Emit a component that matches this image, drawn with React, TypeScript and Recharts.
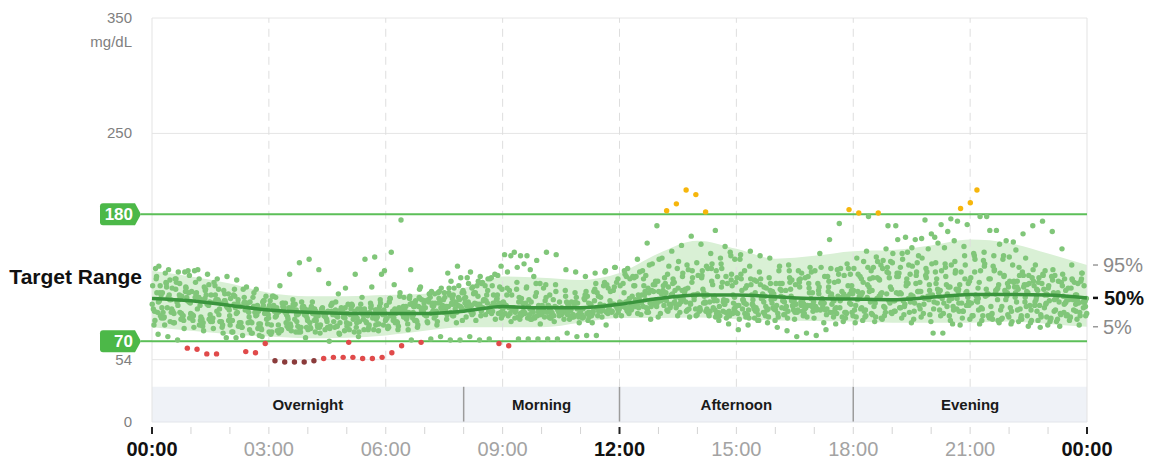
import React from 'react';
import { ComposedChart, XAxis, YAxis, Area, Line, Scatter, ReferenceLine, ReferenceArea } from 'recharts';

// hourly percentile curves (mg/dL)
const hours = [0, 1, 2, 3, 4, 5, 6, 7, 8, 9, 10, 11, 12, 13, 14, 15, 16, 17, 18, 19, 20, 21, 22, 23, 24];
const p5 = [82, 79, 76, 74, 72.5, 73, 75, 79, 82, 82, 82, 86, 90, 90, 90.5, 89, 88, 87.5, 87, 86, 86, 86, 87, 85, 82.5];
const p50 = [107, 105, 101, 97, 95, 94, 94, 94, 96, 100, 99, 99, 102, 107, 110, 110, 108.5, 107, 106.5, 106, 108, 110.5, 110.5, 110, 107.5];
const p95 = [131, 126, 120, 112, 109, 109, 110, 111, 116, 126, 125, 123, 129, 146, 157, 150, 141.5, 144, 148, 149, 153, 158, 155, 146, 136];

// sensor readings, one value per 15 min slot, one row per day
const slotMinutes = 15;
const dayOffsets = [9.4, 12.6, 8.5, 0.3, 10.5, 14, 4.5, 6.5, 2, 11.5, 13, 5.5, 7.5, 3, 1, 3.8, 7, 9.9, 12.2, 14.6];
const days: number[][] = [
  [76, 74, 71, 64, 63, 59, 59, 73, 73, 61, 60, 68, 53, 52, 52, 52, 53, 55, 56, 56, 56, 55, 55, 56,
   60, 66, 71, 69, 72, 74, 71, 71, 74, 71, 72, 68, 66, 72, 72, 72, 72, 72, 77, 74, 75, 75, 84, 92,
   99, 106, 113, 119, 125, 121, 114, 109, 103, 99, 96, 94, 98, 102, 107, 111, 114, 109, 104, 101, 97, 95, 99, 103,
   109, 117, 124, 129, 126, 120, 113, 107, 103, 100, 98, 101, 105, 110, 114, 112, 108, 104, 101, 99, 96, 95, 97, 99],
  [118, 123, 120, 127, 124, 119, 115, 111, 106, 103, 100, 98, 96, 95, 93, 94, 91, 94, 97, 99, 96, 95, 92, 93,
   90, 91, 93, 97, 96, 101, 107, 112, 116, 120, 125, 135, 144, 144, 132, 120, 110, 104, 100, 98, 103, 109, 116, 124,
   133, 141, 155, 170, 183, 189, 201, 197, 182, 166, 152, 141, 131, 123, 117, 111, 108, 105, 103, 101, 104, 108, 113, 118,
   124, 131, 136, 139, 134, 128, 121, 114, 109, 105, 103, 104, 107, 111, 116, 120, 122, 119, 115, 111, 107, 104, 102, 100],
  [95, 99, 104, 108, 112, 110, 106, 103, 99, 97, 95, 94, 96, 99, 101, 100, 98, 95, 93, 96, 101, 108, 117, 128,
   147, 175, 132, 117, 108, 104, 110, 106, 102, 99, 96, 94, 92, 91, 90, 92, 95, 99, 104, 108, 113, 120, 131, 134,
   128, 118, 110, 104, 101, 103, 106, 110, 115, 119, 121, 118, 114, 110, 107, 106, 109, 115, 124, 134, 146, 158, 172, 184,
   181, 178, 181, 170, 158, 147, 138, 130, 124, 119, 115, 112, 110, 109, 111, 114, 117, 119, 118, 115, 112, 109, 106, 104],
  [102, 99, 98, 94, 93, 91, 87, 87, 84, 85, 80, 75, 78, 77, 81, 78, 80, 82, 82, 83, 83, 86, 86, 89,
   89, 94, 96, 102, 105, 111, 112, 116, 112, 111, 105, 103, 98, 98, 95, 96, 93, 94, 93, 97, 98, 102, 102, 105,
   104, 107, 107, 112, 113, 117, 116, 116, 111, 110, 105, 105, 101, 102, 99, 100, 97, 98, 95, 98, 98, 103, 105, 111,
   114, 121, 125, 133, 138, 146, 151, 159, 163, 171, 176, 185, 190, 178, 166, 154, 143, 134, 127, 121, 116, 112, 108, 105],
  [135, 132, 130, 131, 132, 128, 124, 126, 123, 117, 115, 109, 108, 103, 102, 98, 98, 94, 95, 91, 92, 89, 92, 93,
   96, 97, 103, 106, 113, 116, 122, 125, 130, 126, 124, 117, 114, 108, 106, 101, 101, 98, 102, 103, 109, 112, 119, 121,
   126, 126, 127, 122, 120, 114, 113, 109, 109, 105, 106, 103, 106, 106, 111, 113, 120, 123, 129, 130, 134, 133, 133, 128,
   126, 124, 123, 125, 129, 136, 144, 150, 155, 165, 174, 171, 201, 178, 166, 157, 149, 142, 136, 131, 127, 124, 121, 118],
  [110, 106, 108, 103, 101, 104, 98, 97, 100, 95, 96, 93, 95, 91, 93, 90, 92, 89, 92, 94, 91, 95, 97, 94,
   98, 96, 100, 103, 101, 106, 110, 114, 117, 121, 118, 115, 110, 107, 104, 100, 99, 96, 97, 94, 95, 97, 99, 101,
   105, 110, 116, 122, 128, 133, 136, 138, 135, 131, 126, 121, 116, 112, 109, 107, 104, 105, 102, 104, 103, 106, 108, 111,
   112, 114, 112, 115, 111, 110, 113, 110, 114, 117, 119, 122, 121, 124, 119, 117, 115, 112, 114, 110, 109, 107, 110, 107],
  [88, 84, 86, 81, 82, 79, 81, 77, 78, 75, 77, 74, 78, 80, 79, 82, 81, 84, 83, 86, 85, 87, 84, 85,
   82, 83, 80, 84, 86, 87, 93, 95, 101, 102, 105, 101, 100, 95, 94, 90, 91, 87, 89, 91, 91, 96, 97, 102,
   103, 109, 110, 114, 111, 110, 104, 102, 97, 96, 92, 92, 89, 90, 88, 91, 91, 96, 97, 101, 98, 98, 94, 94,
   91, 92, 91, 95, 96, 102, 103, 107, 104, 103, 97, 96, 92, 92, 89, 90, 87, 89, 88, 91, 90, 93, 91, 92],
  [124, 121, 115, 113, 108, 107, 104, 105, 102, 103, 100, 101, 99, 100, 98, 99, 97, 98, 96, 99, 98, 102, 103, 106,
   107, 109, 107, 108, 104, 103, 100, 101, 99, 102, 103, 107, 110, 115, 116, 120, 119, 119, 114, 112, 106, 105, 101, 102,
   100, 101, 100, 104, 106, 111, 114, 121, 125, 133, 137, 144, 145, 148, 144, 142, 135, 131, 123, 120, 114, 113, 109, 109,
   106, 108, 107, 111, 112, 118, 120, 127, 130, 137, 139, 144, 144, 147, 144, 144, 156, 163, 170, 174, 165, 150, 136, 124],
  [98, 95, 96, 92, 93, 89, 90, 87, 88, 86, 87, 85, 105, 118, 128, 138, 141, 132, 120, 111, 102, 98, 92, 91,
   90, 87, 89, 88, 92, 92, 97, 98, 103, 103, 106, 103, 103, 99, 99, 95, 96, 93, 94, 91, 93, 92, 96, 96,
   100, 100, 104, 103, 105, 102, 102, 98, 98, 94, 95, 92, 94, 93, 97, 97, 101, 100, 102, 99, 100, 97, 98, 95,
   97, 96, 100, 100, 105, 105, 109, 108, 110, 107, 107, 103, 103, 99, 100, 97, 99, 98, 101, 101, 105, 104, 106, 103],
  [105, 110, 106, 112, 108, 102, 106, 99, 95, 99, 93, 89, 92, 86, 78, 73, 78, 80, 82, 79, 78, 80, 80, 84,
   88, 93, 90, 96, 101, 97, 103, 99, 95, 92, 96, 100, 94, 89, 93, 97, 91, 95, 99, 93, 88, 92, 96, 100,
   97, 103, 99, 106, 112, 108, 115, 110, 104, 109, 102, 98, 104, 100, 95, 99, 105, 101, 96, 100, 106, 111, 107, 102,
   98, 104, 109, 103, 99, 95, 101, 106, 112, 117, 113, 108, 104, 110, 115, 109, 104, 100, 106, 102, 97, 103, 108, 104],
  [92, 87, 95, 90, 84, 89, 93, 88, 83, 86, 81, 85, 79, 83, 87, 82, 88, 95, 104, 116, 128, 141, 143, 131,
   119, 108, 100, 95, 100, 96, 92, 88, 93, 98, 94, 90, 87, 92, 89, 85, 90, 94, 89, 86, 91, 96, 100, 95,
   99, 94, 98, 103, 97, 101, 96, 92, 96, 91, 95, 99, 94, 90, 94, 98, 93, 97, 92, 96, 100, 95, 91, 95,
   99, 94, 90, 95, 99, 104, 98, 93, 97, 92, 96, 101, 97, 92, 88, 93, 97, 92, 96, 91, 87, 92, 96, 92],
  [133, 129, 124, 130, 131, 117, 121, 114, 110, 115, 108, 104, 109, 103, 99, 104, 100, 96, 101, 97, 93, 98, 95, 100,
   104, 99, 95, 100, 106, 112, 129, 135, 125, 118, 110, 106, 101, 97, 103, 109, 105, 100, 96, 102, 107, 113, 118, 114,
   120, 126, 131, 137, 142, 148, 153, 161, 154, 146, 142, 147, 141, 135, 130, 125, 131, 136, 131, 126, 120, 126, 132, 137,
   142, 148, 143, 150, 170, 160, 158, 175, 160, 151, 157, 152, 146, 140, 135, 141, 136, 130, 125, 120, 126, 121, 116, 122],
  [112, 117, 121, 116, 111, 115, 110, 105, 109, 104, 100, 105, 101, 97, 102, 98, 94, 99, 103, 98, 102, 97, 101, 96,
   92, 97, 102, 107, 111, 113, 116, 118, 120, 122, 124, 127, 130, 134, 144, 140, 147, 145, 132, 130, 126, 129, 130, 134,
   131, 125, 118, 113, 118, 124, 129, 125, 131, 137, 133, 128, 124, 119, 124, 120, 115, 121, 117, 112, 117, 122, 128, 133,
   128, 134, 139, 134, 129, 124, 130, 125, 120, 126, 131, 136, 141, 137, 132, 127, 122, 117, 122, 127, 132, 128, 123, 129],
  [84, 90, 86, 92, 88, 83, 87, 82, 78, 82, 77, 81, 76, 80, 85, 81, 86, 82, 70, 77, 69, 74, 80, 85,
   81, 86, 91, 87, 92, 96, 100, 104, 108, 112, 118, 128, 145, 147, 137, 126, 116, 106, 98, 93, 90, 86, 91, 95,
   92, 97, 93, 89, 94, 99, 95, 91, 96, 92, 88, 85, 80, 84, 88, 86, 82, 79, 74, 77, 75, 80, 85, 90,
   86, 91, 87, 92, 96, 93, 89, 94, 77, 77, 85, 90, 92, 88, 93, 89, 85, 90, 86, 82, 87, 83, 88, 84],
  [118, 112, 116, 109, 113, 106, 110, 103, 107, 100, 104, 98, 101, 96, 99, 94, 97, 92, 96, 91, 94, 90, 93, 97,
   101, 96, 100, 105, 99, 103, 108, 102, 107, 112, 106, 110, 104, 99, 103, 97, 101, 95, 99, 104, 98, 102, 108, 113,
   118, 124, 130, 136, 141, 135, 139, 132, 127, 133, 126, 120, 125, 118, 122, 116, 120, 114, 119, 125, 131, 126, 121, 127,
   133, 139, 134, 140, 146, 141, 135, 142, 137, 131, 136, 130, 125, 131, 124, 129, 122, 127, 120, 125, 118, 122, 116, 120],
  [96, 91, 94, 88, 92, 86, 90, 84, 88, 82, 86, 80, 84, 79, 83, 78, 82, 77, 81, 76, 80, 78, 82, 79,
   83, 80, 85, 82, 87, 84, 89, 86, 91, 88, 93, 89, 94, 90, 95, 91, 96, 92, 97, 93, 98, 94, 99, 96,
   101, 98, 103, 100, 105, 101, 107, 103, 99, 104, 100, 96, 101, 97, 93, 98, 94, 90, 95, 91, 97, 93, 99, 95,
   101, 97, 103, 99, 105, 100, 96, 102, 98, 94, 100, 96, 92, 98, 94, 100, 96, 92, 97, 93, 89, 94, 90, 95],
  [126, 120, 124, 117, 121, 114, 118, 111, 115, 108, 112, 105, 109, 103, 106, 100, 104, 98, 102, 96, 100, 95, 99, 103,
   107, 112, 109, 115, 111, 107, 112, 108, 104, 109, 114, 110, 116, 121, 117, 112, 108, 113, 109, 104, 110, 115, 121, 117,
   112, 118, 124, 119, 114, 120, 126, 131, 127, 122, 117, 123, 128, 124, 119, 114, 120, 125, 121, 116, 111, 117, 122, 118,
   113, 119, 125, 130, 126, 121, 127, 133, 138, 134, 129, 124, 130, 135, 131, 126, 121, 127, 132, 128, 123, 118, 124, 129],
  [104, 108, 101, 105, 98, 102, 96, 100, 94, 98, 92, 96, 91, 95, 89, 93, 88, 92, 87, 91, 89, 93, 90, 94,
   92, 96, 93, 97, 94, 99, 95, 100, 97, 102, 98, 103, 99, 104, 100, 96, 101, 97, 93, 98, 94, 99, 95, 100,
   104, 100, 106, 102, 108, 104, 110, 106, 112, 108, 104, 110, 106, 102, 107, 103, 99, 105, 101, 107, 103, 109, 105, 111,
   107, 113, 109, 105, 111, 107, 113, 109, 115, 111, 107, 113, 109, 115, 111, 106, 112, 108, 104, 110, 106, 102, 108, 104],
  [112, 106, 110, 104, 108, 101, 105, 99, 103, 97, 101, 95, 99, 93, 97, 92, 96, 91, 95, 90, 94, 98, 93, 97,
   96, 100, 95, 99, 103, 98, 102, 97, 101, 96, 100, 95, 99, 94, 98, 93, 97, 92, 96, 91, 95, 99, 94, 98,
   96, 101, 95, 100, 105, 99, 104, 98, 103, 97, 102, 108, 103, 98, 104, 110, 105, 100, 106, 112, 107, 102, 108, 114,
   110, 105, 111, 117, 112, 107, 113, 119, 114, 109, 115, 120, 116, 111, 106, 112, 117, 113, 108, 103, 109, 114, 110, 105],
  [90, 95, 89, 94, 88, 93, 87, 92, 86, 91, 85, 90, 84, 89, 83, 88, 84, 87, 83, 86, 82, 87, 84, 88,
   86, 91, 88, 93, 90, 95, 92, 97, 94, 99, 96, 92, 97, 93, 89, 94, 90, 95, 91, 96, 92, 97, 101, 98,
   94, 99, 95, 91, 96, 92, 97, 93, 98, 94, 90, 95, 91, 96, 92, 88, 93, 89, 94, 90, 86, 91, 87, 92,
   88, 93, 89, 94, 90, 86, 91, 87, 92, 88, 84, 89, 85, 90, 86, 91, 87, 83, 88, 84, 89, 93, 89, 94],
];

const veryLowLimit = 54;
const lowLimit = 70;
const highLimit = 180;

const yTicks = [0, 54, 250, 350];
const hourTicks = [0, 1, 2, 3, 4, 5, 6, 7, 8, 9, 10, 11, 12, 13, 14, 15, 16, 17, 18, 19, 20, 21, 22, 23, 24];
const labeledHours = [0, 3, 6, 9, 12, 15, 18, 21, 24];
const timeLabels = ['00:00', '03:00', '06:00', '09:00', '12:00', '15:00', '18:00', '21:00', '00:00'];
const gridHours = [3, 6, 9, 12, 15, 18, 21];

const sectionNames = ['Overnight', 'Morning', 'Afternoon', 'Evening'];
const sectionStarts = [0, 8, 12, 18];
const sectionEnds = [8, 12, 18, 24];
const sectionTop = 30.5;

const pctLabels = ['95%', '50%', '5%'];
const pctValues = [p95[p95.length - 1], p50[p50.length - 1], p5[p5.length - 1]];

const bandRows = hours.map((t, i) => ({ t, p5: p5[i], p50: p50[i], p95: p95[i], band: [p5[i], p95[i]] }));

const readings = days.flatMap((vals, d) =>
  vals.map((v, i) => ({ t: (i * slotMinutes + dayOffsets[d]) / 60, v }))
);
const veryLow = readings.filter((r) => r.v < veryLowLimit);
const low = readings.filter((r) => r.v >= veryLowLimit && r.v < lowLimit);
const inRange = readings.filter((r) => r.v >= lowLimit && r.v <= highLimit);
const high = readings.filter((r) => r.v > highLimit);

const lineGreen = '#5cbf58';
const badgeGreen = '#4cb848';

const dot = (color: string) => (p: any) => <circle cx={p.cx} cy={p.cy} r={2.7} fill={color} />;

const XTick = ({ x, y, payload }: any) => {
  const h = payload.value;
  const major = h % 12 === 0;
  const li = labeledHours.indexOf(h);
  return (
    <g>
      <line x1={x} x2={x} y1={y + 5} y2={y + 12} stroke={major ? '#222' : '#d4d4d4'} strokeWidth={major ? 2 : 1} />
      {li >= 0 && (
        <text x={x} y={y + 34} textAnchor="middle" fontSize={20} fontWeight={major ? 700 : 400} fill={major ? '#111' : '#a3a3a3'}>
          {timeLabels[li]}
        </text>
      )}
    </g>
  );
};

const YTick = ({ x, y, payload }: any) => (
  <g>
    <text x={x - 20} y={y + 5} textAnchor="end" fontSize={15} fill="#808080">{payload.value}</text>
    {payload.value === 350 && (
      <text x={x - 20} y={y + 29} textAnchor="end" fontSize={15} fill="#808080">mg/dL</text>
    )}
  </g>
);

const PctTick = ({ x, y, payload }: any) => {
  const i = pctValues.indexOf(payload.value);
  if (i < 0) return <g />;
  const bold = pctLabels[i] === '50%';
  return (
    <g>
      <line x1={x + 6} x2={x + 11} y1={y} y2={y} stroke={bold ? '#111' : '#9a9a9a'} strokeWidth={bold ? 2.5 : 1.5} />
      <text x={bold ? x + 17 : x + 16} y={y + 7} fontSize={20} fontWeight={bold ? 700 : 400} fill={bold ? '#111' : '#8a8a8a'}>
        {pctLabels[i]}
      </text>
    </g>
  );
};

const Badge = ({ viewBox, text }: any) => {
  const { x, y } = viewBox;
  const l = x - 52;
  const tip = x - 11;
  const body = tip - 6;
  return (
    <g>
      <line x1={tip} x2={x} y1={y} y2={y} stroke={lineGreen} strokeWidth={2} />
      <path
        d={`M${l + 3},${y - 11} H${body} L${tip},${y} L${body},${y + 11} H${l + 3} Q${l},${y + 11} ${l},${y + 8} V${y - 8} Q${l},${y - 11} ${l + 3},${y - 11} Z`}
        fill={badgeGreen}
      />
      <text x={x - 19} y={y + 6} textAnchor="end" fontSize={17} fontWeight={700} fill="#fff">{text}</text>
    </g>
  );
};

const TargetLabel = ({ viewBox }: any) => (
  <text x={viewBox.x - 10} y={viewBox.y + viewBox.height / 2 + 6} textAnchor="end" fontSize={21} fontWeight={700} fill="#111">
    Target Range
  </text>
);

export default function App() {
  return (
    <div style={{ position: 'absolute', left: 0, top: 0, width: 1149, height: 461, overflow: 'hidden', fontFamily: '"Liberation Sans", Arial, sans-serif', background: '#fff' }}>
      <ComposedChart width={1149} height={461} margin={{ top: 18, right: 0, bottom: 0, left: 0 }} style={{ overflow: 'visible' }}>
        <XAxis
          type="number"
          dataKey="t"
          domain={[0, 24]}
          ticks={hourTicks}
          interval={0}
          height={39}
          axisLine={false}
          tickLine={false}
          tickSize={0}
          tickMargin={0}
          tick={<XTick />}
        />
        <YAxis
          type="number"
          dataKey="v"
          domain={[0, 350]}
          ticks={yTicks}
          interval={0}
          width={152}
          axisLine={false}
          tickLine={false}
          tickSize={0}
          tickMargin={0}
          tick={<YTick />}
        />
        <YAxis
          yAxisId="pct"
          orientation="right"
          type="number"
          domain={[0, 350]}
          ticks={pctValues}
          interval={0}
          width={62}
          axisLine={false}
          tickLine={false}
          tickSize={0}
          tickMargin={0}
          tick={<PctTick />}
        />

        {sectionNames.map((name, i) => (
          <ReferenceArea
            key={name}
            x1={sectionStarts[i]}
            x2={sectionEnds[i]}
            y1={0}
            y2={sectionTop}
            fill="#eff2f7"
            fillOpacity={1}
            stroke="none"
            label={{ value: name, position: 'center', fontSize: 15, fontWeight: 700, fill: '#1a1a1a' }}
          />
        ))}
        {sectionStarts.slice(1).map((h) => (
          <ReferenceLine key={'sep' + h} segment={[{ x: h, y: 0 }, { x: h, y: sectionTop }]} stroke="#9c9c9c" strokeWidth={1.5} />
        ))}
        <ReferenceLine y={0} stroke="#e2e5ea" />
        <ReferenceLine y={350} stroke="#e6e6e6" />
        <ReferenceLine y={250} stroke="#e6e6e6" />
        <ReferenceLine y={54} stroke="#e6e6e6" />
        <ReferenceLine x={0} stroke="#e3e3e3" />
        <ReferenceLine x={24} stroke="#e3e3e3" />
        {gridHours.map((h) => (
          <ReferenceLine key={'g' + h} segment={[{ x: h, y: sectionTop }, { x: h, y: 350 }]} stroke="#dedede" strokeDasharray="8 6" />
        ))}
        <ReferenceArea y1={lowLimit} y2={highLimit} fill="transparent" fillOpacity={0} stroke="none" label={<TargetLabel />} />

        <Area data={bandRows} dataKey="band" type="monotone" fill="#d9f0d5" fillOpacity={1} stroke="none" isAnimationActive={false} />

        <ReferenceLine y={highLimit} stroke={lineGreen} strokeWidth={2} label={<Badge text="180" />} />
        <ReferenceLine y={lowLimit} stroke={lineGreen} strokeWidth={2} label={<Badge text="70" />} />

        <Scatter data={inRange} shape={dot('#80c679')} isAnimationActive={false} />
        <Scatter data={low} shape={dot('#e04a4a')} isAnimationActive={false} />
        <Scatter data={veryLow} shape={dot('#8b3b3b')} isAnimationActive={false} />
        <Scatter data={high} shape={dot('#f6b60c')} isAnimationActive={false} />

        <Line yAxisId="pct" data={bandRows} dataKey="p50" type="monotone" stroke="#3a953d" strokeWidth={3.5} dot={false} isAnimationActive={false} zIndex={700} />
      </ComposedChart>
    </div>
  );
}
